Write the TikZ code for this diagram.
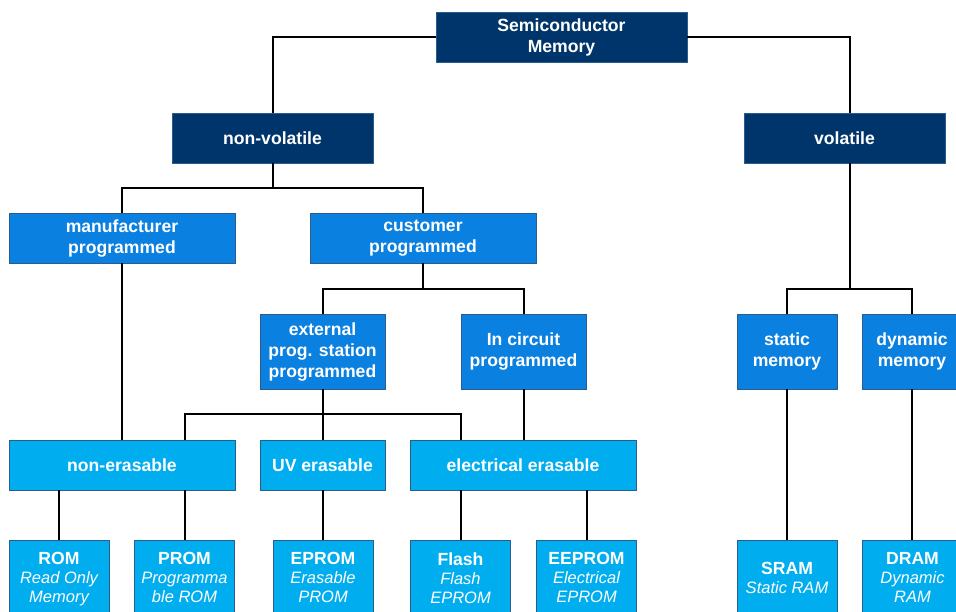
\documentclass[tikz,border=0pt]{standalone}
\usepackage{fontspec}
\setmainfont{Liberation Sans}
\usetikzlibrary{calc}
\definecolor{navy}{HTML}{00356B}
\definecolor{midblue}{HTML}{0A80E0}
\definecolor{skyblue}{HTML}{00ADEF}
\definecolor{edge}{HTML}{2A5C8C}
% italic description line inside a memory box
\newcommand{\desc}[1]{{\fontsize{16.5}{19}\selectfont\mdseries\itshape #1\strut}}
\begin{document}
\begin{tikzpicture}[x=1pt,y=-1pt,
  box/.style={draw=edge, line width=0.9pt, text=white, align=center, inner sep=0pt,
    font=\fontsize{17.6}{21}\selectfont\bfseries},
  lvlA/.style={box, fill=navy, minimum width=201pt, minimum height=50pt},
  lvlB/.style={box, fill=midblue, minimum height=50pt},
  lvlC/.style={box, fill=midblue, minimum width=125pt, minimum height=75pt},
  lvlD/.style={box, fill=skyblue, minimum height=50pt},
  leaf/.style={box, fill=skyblue, minimum width=100pt, minimum height=81pt,
    font=\fontsize{17.6}{19}\selectfont\bfseries},
  conn/.style={draw=black, line width=2pt}]
\useasboundingbox (0,0) rectangle (956,611);

% top level
\node[lvlA, minimum width=251pt] (sm) at (561.5,37) {Semiconductor\\Memory};
\node[lvlA] (nv) at (272.5,138) {non-volatile};
\node[lvlA] (vo) at (844.5,138) {volatile};

% programming method
\node[lvlB, minimum width=226pt] (mp) at (122,238) {manufacturer\\programmed};
\node[lvlB, minimum width=226pt] (cp) at (423,238) {customer\\programmed};
\node[lvlC] (ext) at (322.5,351.5) {external\\prog. station\\programmed};
\node[lvlC] (ic) at (523.5,351.5) {In circuit\\programmed};
\node[lvlC, minimum width=100pt] (st) at (787,351.5) {static\\memory};
\node[lvlC, minimum width=100pt] (dy) at (912,351.5) {dynamic\\memory};

% erasability
\node[lvlD, minimum width=226pt] (ne) at (122,465) {non-erasable};
\node[lvlD, minimum width=125pt] (uv) at (322.5,465) {UV erasable};
\node[lvlD, minimum width=226pt] (ee) at (523,465) {electrical erasable};

% memory types (boxes run past the lower edge)
\node[leaf] (rom) at (59,580.5) {ROM\\\desc{Read Only}\\\desc{Memory}};
\node[leaf] (pr) at (184.5,580.5) {PROM\\\desc{Programma}\\\desc{ble ROM}};
\node[leaf] (ep) at (323,580.5) {EPROM\\\desc{Erasable}\\\desc{PROM}};
\node[leaf] (fl) at (460.5,580.5) {Flash\\\desc{Flash}\\\desc{EPROM}};
\node[leaf] (eep) at (586.5,580.5) {EEPROM\\\desc{Electrical}\\\desc{EPROM}};
\node[leaf] (sr) at (787,580.5) {SRAM\\\desc{Static RAM}};
\node[leaf] (dr) at (912.5,580.5) {DRAM\\\desc{Dynamic}\\\desc{RAM}};

% bus levels
\coordinate (b1) at (0,188);
\coordinate (b2) at (0,289);
\coordinate (b3) at (0,414);
\coordinate (vx) at (850,0);

% connectors
\draw[conn] (sm.west) -| (nv.north);
\draw[conn] (sm.east) -| (vo.north -| vx);
\draw[conn] (nv.south) -- (nv.south |- b1);
\draw[conn] (mp.north) -- (mp.north |- b1) -- (cp.north |- b1) -- (cp.north);
\draw[conn] (cp.south) -- (cp.south |- b2);
\draw[conn] (ext.north) -- (ext.north |- b2) -- (ic.north |- b2) -- (ic.north);
\draw[conn] (vo.south -| vx) -- (vx |- b2);
\draw[conn] (st.north) -- (st.north |- b2) -- (dy.north |- b2) -- (dy.north);
\draw[conn] (ext.south) -- (ext.south |- b3);
\draw[conn] (ne.north -| pr.north) -- (pr.north |- b3) -- (fl.north |- b3) -- (ee.north -| fl.north);
\draw[conn] (uv.north) -- (uv.north |- b3);
\draw[conn] (mp.south) -- (ne.north);
\draw[conn] (ic.south) -- (ic.south |- ee.north);
\draw[conn] (ne.south -| rom.north) -- (rom.north);
\draw[conn] (ne.south -| pr.north) -- (pr.north);
\draw[conn] (uv.south) -- (uv.south |- ep.north);
\draw[conn] (ee.south -| fl.north) -- (fl.north);
\draw[conn] (ee.south -| eep.north) -- (eep.north);
\draw[conn] (st.south) -- (sr.north);
\draw[conn] (dy.south) -- (dy.south |- dr.north);
\end{tikzpicture}
\end{document}
